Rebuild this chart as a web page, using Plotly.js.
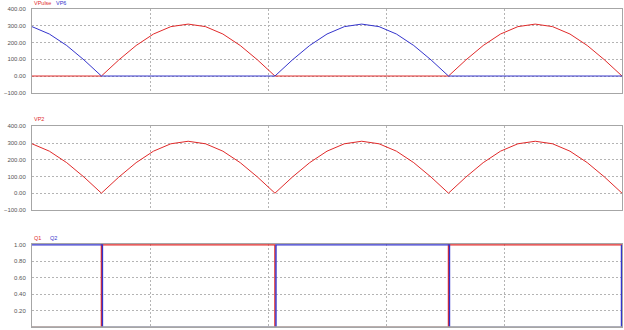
<!DOCTYPE html>
<html>
<head>
<meta charset="utf-8">
<script src="https://cdn.plot.ly/plotly-3.0.1.min.js"></script>
<style>
  html, body { margin: 0; padding: 0; background: #fff; }
  #plot { width: 624px; height: 330px; }
</style>
</head>
<body>
<div id="plot"></div>
<script>
// Simulation time, ms (1 ms samples)
const timeMs = [0,1,2,3,4,5,6,7,8,9,10,11,12,13,14,15,16,17,18,19,20,21,22,23,24,25,26,27,28,29,30,31,32,33,34];

// Pulse voltage and phase-6 voltage, V
const vPulse = [0,0,0,0,0,96.1,182.8,251.6,295.8,311,295.8,251.6,182.8,96.1,0,0,0,0,0,0,0,0,0,0,0,96.1,182.8,251.6,295.8,311,295.8,251.6,182.8,96.1,0];
const vP6 = [295.8,251.6,182.8,96.1,0,0,0,0,0,0,0,0,0,0,0,96.1,182.8,251.6,295.8,311,295.8,251.6,182.8,96.1,0,0,0,0,0,0,0,0,0,0,0];

// Rectified voltage VP2, V
const vP2 = [295.8,251.6,182.8,96.1,0,96.1,182.8,251.6,295.8,311,295.8,251.6,182.8,96.1,0,96.1,182.8,251.6,295.8,311,295.8,251.6,182.8,96.1,0,96.1,182.8,251.6,295.8,311,295.8,251.6,182.8,96.1,0];

// Gate signals: switching instants (ms) and states
const q1Time = [0,4,14,24,34];
const q1State = [0,1,0,1,1];
const q2Time = [0,4.06,14.06,24.06,33.97];
const q2State = [1,0,1,0,1];

const voltTicks = [-100,0,100,200,300,400];
const gateTicks = [0,0.2,0.4,0.6,0.8,1.0];

const RED = '#e02a2a';
const BLUE = '#3434cc';
const GRID = '#b4b4b4';
const FRAME = '#a6a6a6';
const tickFont = {family: 'Liberation Sans, Arial, sans-serif', size: 6, color: '#555'};

function xAxis(anchor) {
  return {
    anchor: anchor, domain: [0, 1], range: [0, 34],
    tick0: 0, dtick: 6.8, showticklabels: false, ticks: '',
    showgrid: true, gridcolor: GRID, griddash: '2px,2px', gridwidth: 1,
    zeroline: false, showline: true, linecolor: FRAME, linewidth: 1, mirror: true,
    fixedrange: true
  };
}
function yAxis(anchor, domain, range, vals) {
  return {
    anchor: anchor, domain: domain, range: range,
    tickmode: 'array', tickvals: vals, tickformat: '.2f',
    tickfont: tickFont, ticks: '', ticklabelstandoff: 4,
    showgrid: true, gridcolor: GRID, griddash: '2px,2px', gridwidth: 1,
    zeroline: false, showline: true, linecolor: FRAME, linewidth: 1, mirror: true,
    fixedrange: true
  };
}

const traces = [
  {x: timeMs, y: vPulse, name: 'VPulse', xaxis: 'x', yaxis: 'y', mode: 'lines', line: {color: RED, width: 1}},
  {x: timeMs, y: vP6, name: 'VP6', xaxis: 'x', yaxis: 'y', mode: 'lines', line: {color: BLUE, width: 1}},
  {x: timeMs, y: vP2, name: 'VP2', xaxis: 'x2', yaxis: 'y2', mode: 'lines', line: {color: RED, width: 1}},
  {x: q1Time, y: q1State, name: 'Q1', xaxis: 'x3', yaxis: 'y3', mode: 'lines', line: {color: RED, width: 1.4, shape: 'hv'}},
  {x: q2Time, y: q2State, name: 'Q2', xaxis: 'x3', yaxis: 'y3', mode: 'lines', line: {color: BLUE, width: 1.4, shape: 'hv'}}
];

const legendFont = (c) => ({family: 'Liberation Sans, Arial, sans-serif', size: 5.5, color: c});
function label(text, x, y, color) {
  return {text: text, xref: 'paper', yref: 'paper', x: x, y: y,
          xanchor: 'left', yanchor: 'middle', showarrow: false, font: legendFont(color)};
}

const layout = {
  width: 624, height: 330,
  margin: {l: 32, r: 2, t: 0, b: 0, pad: 0},
  paper_bgcolor: '#fff', plot_bgcolor: '#fff',
  showlegend: false,
  xaxis: xAxis('y'),
  xaxis2: xAxis('y2'),
  xaxis3: xAxis('y3'),
  yaxis: yAxis('x', [0.719, 0.972], [-100, 400], voltTicks),
  yaxis2: yAxis('x2', [0.364, 0.617], [-100, 400], voltTicks),
  yaxis3: yAxis('x3', [0.008, 0.261], [0, 1.012], gateTicks),
  // bottom edge of the gate panel sits over the low-state lines
  shapes: [
    {type: 'line', xref: 'x3 domain', yref: 'y3', x0: 0, x1: 1, y0: 0, y1: 0,
     line: {color: FRAME, width: 2}, layer: 'above'}
  ],
  annotations: [
    label('VPulse', 0, 0.991, RED),
    label('VP6', 0.037, 0.991, BLUE),
    label('VP2', 0, 0.638, RED),
    label('Q1', 0, 0.278, RED),
    label('Q2', 0.027, 0.278, BLUE)
  ]
};

Plotly.newPlot('plot', traces, layout, {staticPlot: true, displayModeBar: false});
</script>
</body>
</html>
